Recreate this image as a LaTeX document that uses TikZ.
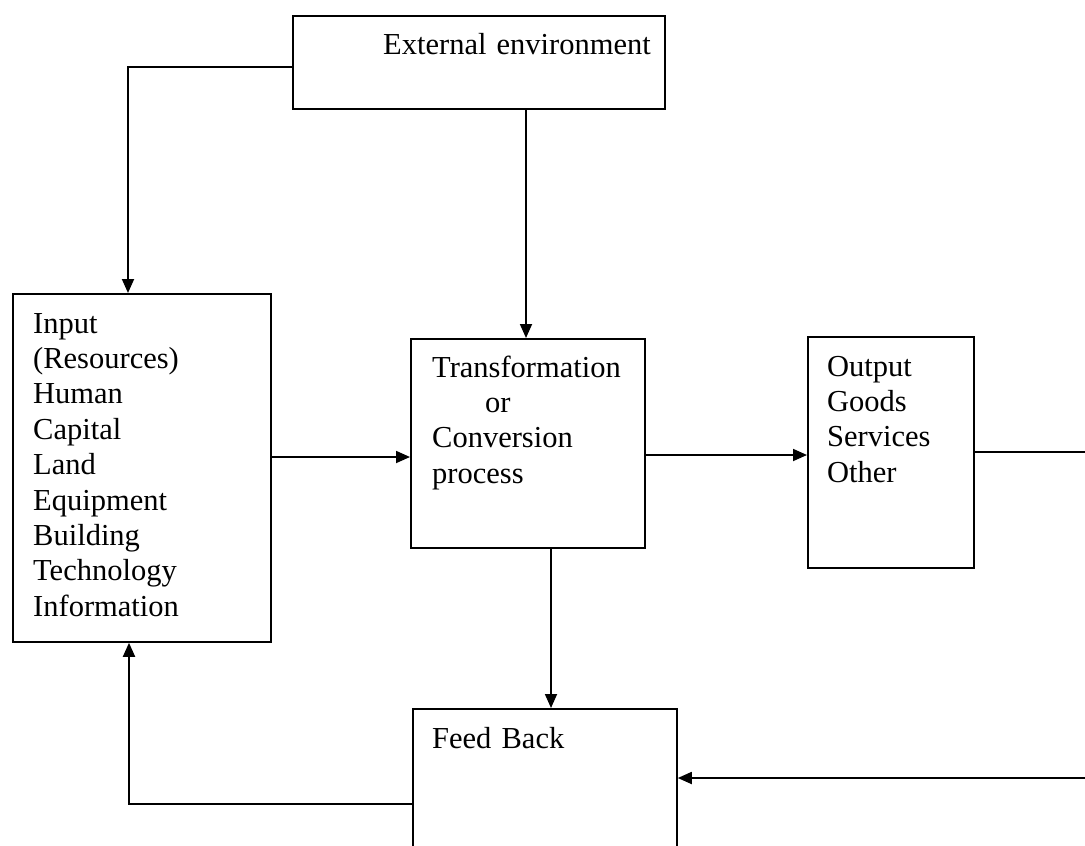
\documentclass[tikz,border=0pt]{standalone}
\usepackage{fontspec}
\setmainfont{Liberation Serif}
\usetikzlibrary{arrows.meta}
\begin{document}
\begin{tikzpicture}[x=1pt,y=-1pt,
  box/.style={draw, line width=1.8pt, inner sep=0pt, anchor=north west},
  lbl/.style={anchor=base west, inner sep=0pt, text width=320pt, align=left,
    font=\fontsize{30.5}{35.4}\selectfont},
  wire/.style={line width=1.8pt},
  link/.style={wire, -{Triangle[length=14pt,width=12pt]}}]
\useasboundingbox (0,0) rectangle (1085,846);
\clip (0,0) rectangle (1085,846);

% boxes
\node[box, minimum width=372pt, minimum height=93pt]  (ext) at (292,15)  {};
\node[box, minimum width=258pt, minimum height=348pt] (inp) at (12,293)  {};
\node[box, minimum width=234pt, minimum height=209pt] (trf) at (410,338) {};
\node[box, minimum width=166pt, minimum height=231pt] (out) at (807,336) {};
\node[box, minimum width=264pt, minimum height=180pt] (fb)  at (412,708) {};

% box texts
\node[lbl] (extT) at (383,54) {External environment};
\node[lbl] (inpT) at (33,333) {Input\\(Resources)\\Human\\Capital\\Land\\Equipment\\Building\\Technology\\Information};
\node[lbl] (trfT) at (432,377) {Transformation\\\hspace*{53pt}or\\Conversion\\process};
\node[lbl] (outT) at (827,376) {Output\\Goods\\Services\\Other};
\node[lbl] (fbT)  at (432,748) {Feed Back};

% connectors
\coordinate (eL) at (128,67);
\draw[link] (ext.west |- eL) -- (eL) -- (eL |- inp.north);
\coordinate (eD) at (526,0);
\draw[link] (eD |- ext.south) -- (eD |- trf.north);
\coordinate (iT) at (0,457);
\draw[link] (inp.east |- iT) -- (trf.west |- iT);
\coordinate (tO) at (0,455);
\draw[link] (trf.east |- tO) -- (out.west |- tO);
\coordinate (tD) at (551,0);
\draw[link] (tD |- trf.south) -- (tD |- fb.north);
\coordinate (r1) at (1100,452);
\coordinate (r2) at (1100,778);
\draw[link] (out.east |- r1) -- (r1) -- (r2) -- (fb.east |- r2);
\coordinate (l1) at (129,804);
\draw[link] (fb.west |- l1) -- (l1) -- (l1 |- inp.south);
\end{tikzpicture}
\end{document}
